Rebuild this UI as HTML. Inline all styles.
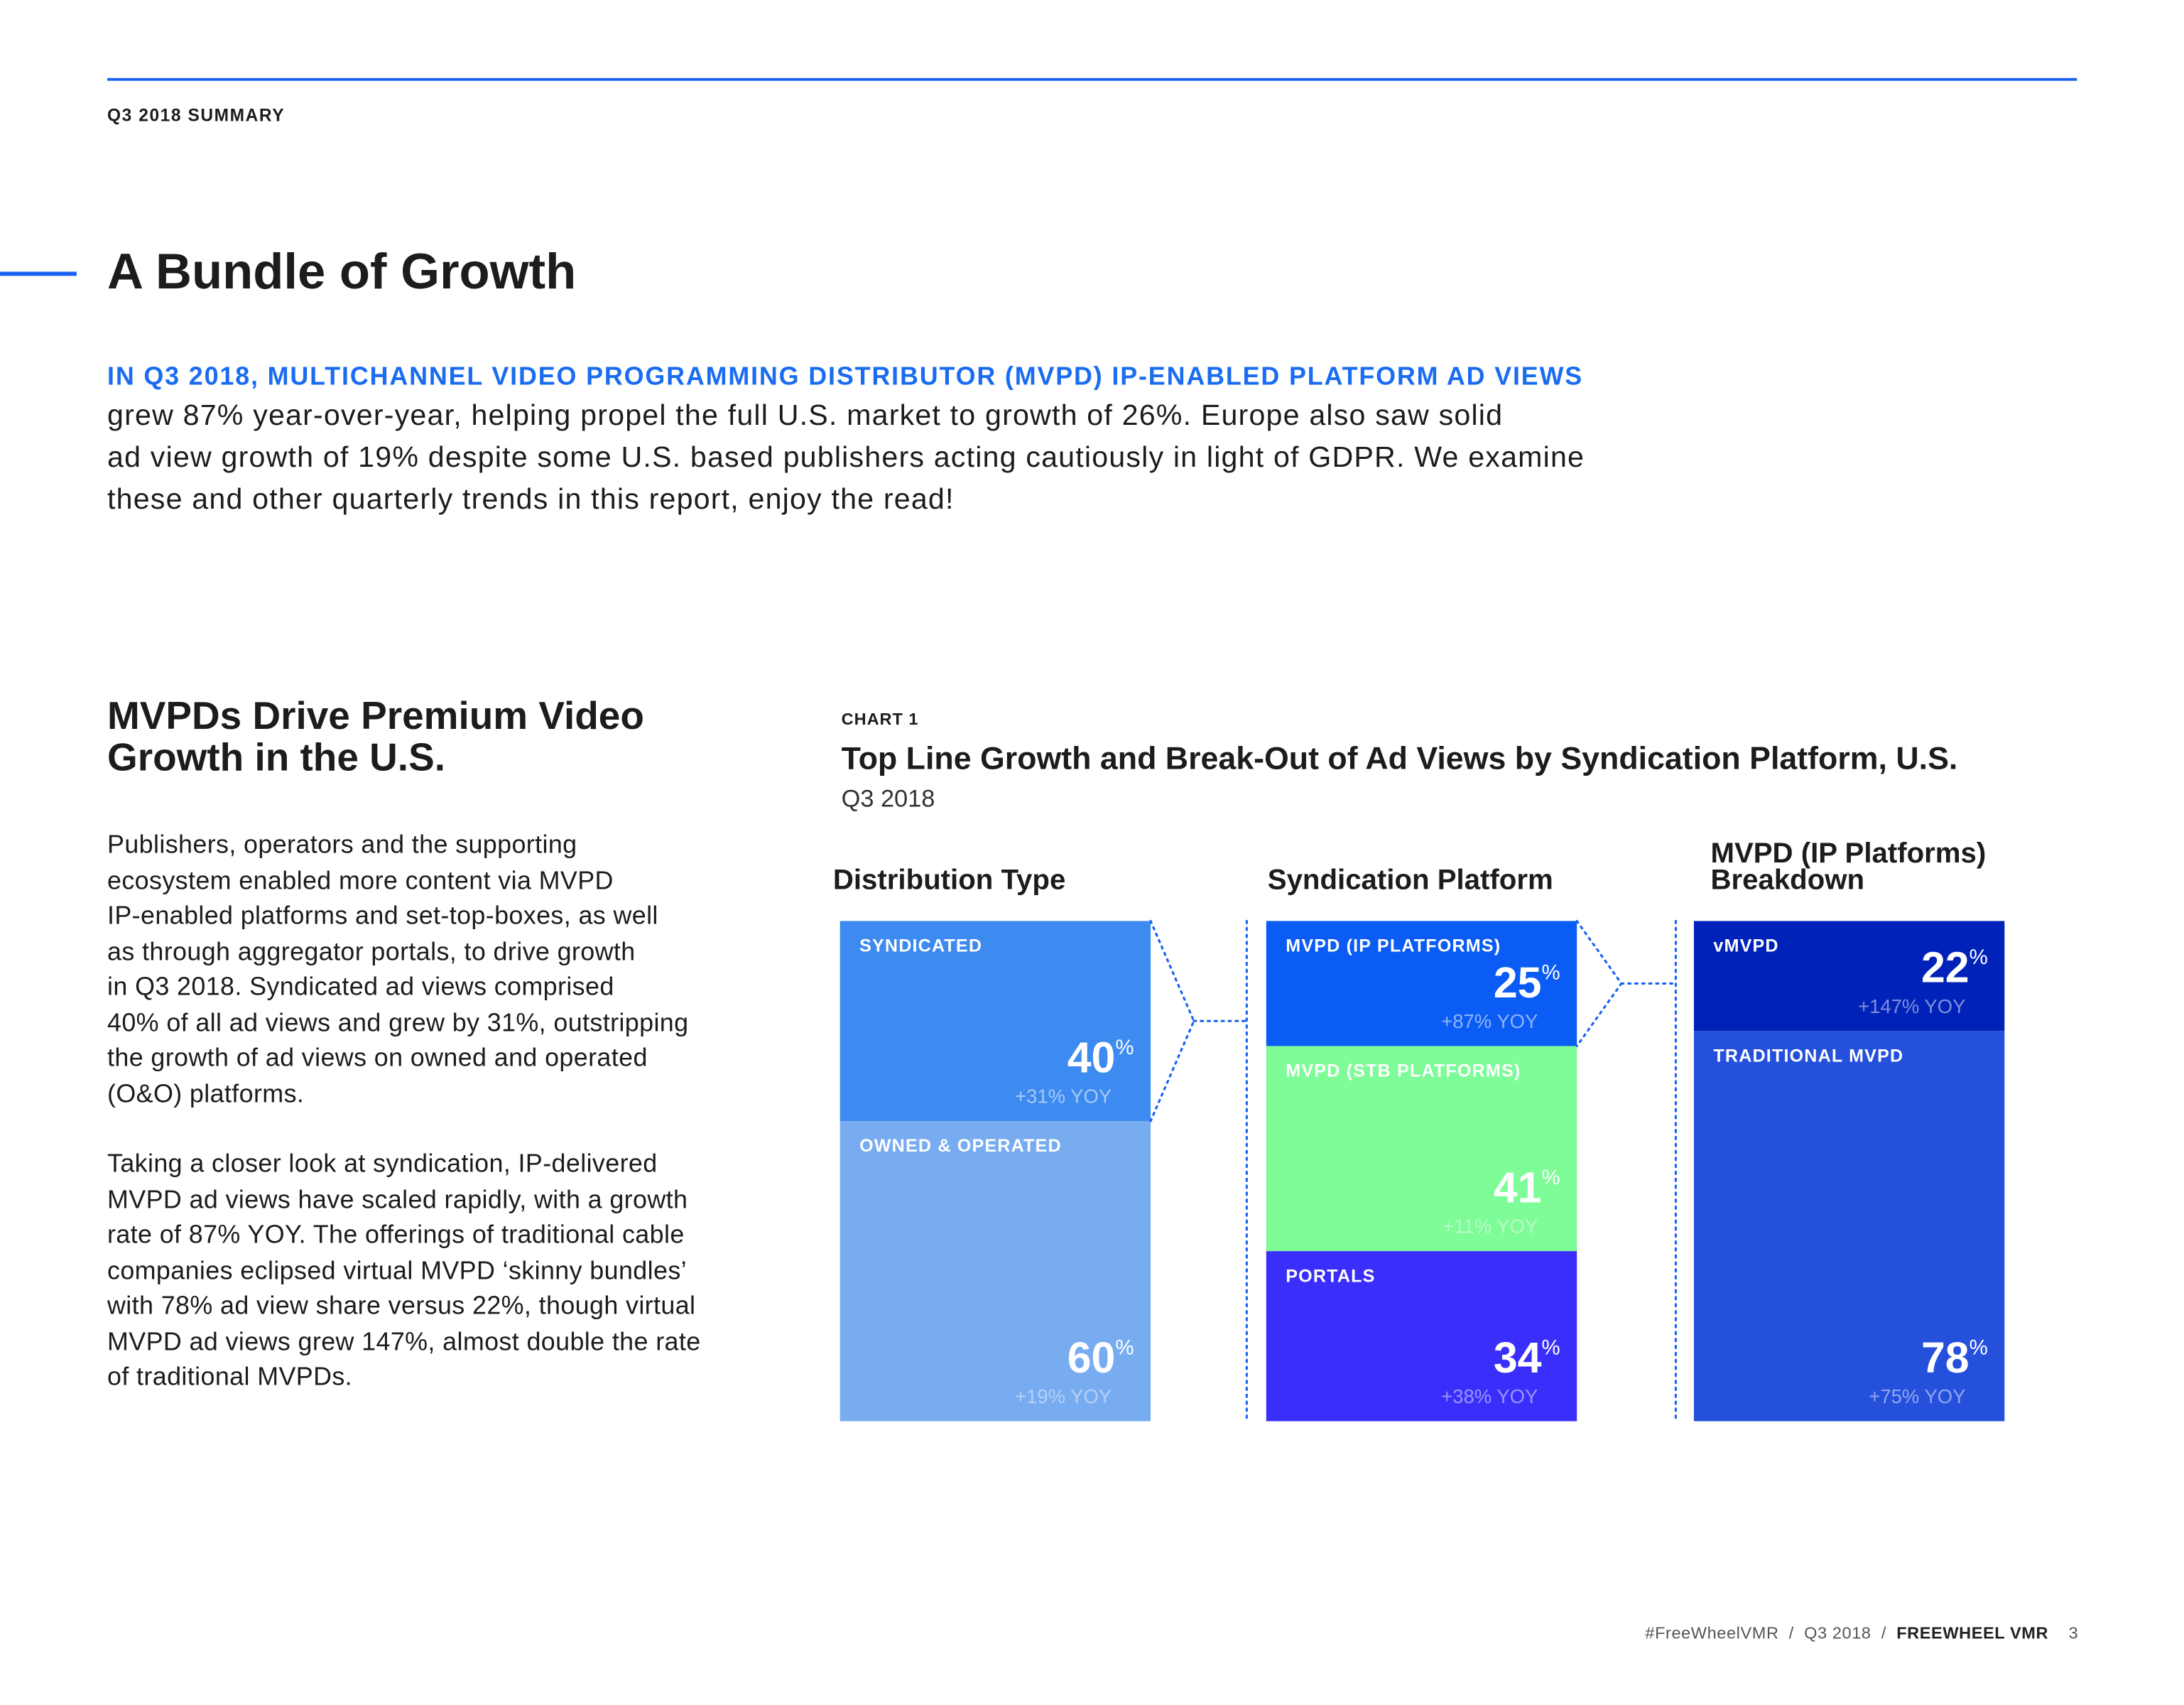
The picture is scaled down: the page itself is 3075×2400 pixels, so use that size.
<!DOCTYPE html>
<html><head><meta charset="utf-8">
<style>
html,body{margin:0;padding:0;background:#fff;}
body{width:3075px;height:2400px;overflow:hidden;position:relative;}
#page{position:absolute;left:0;top:0;width:1550px;height:1210px;transform:scale(1.9613);transform-origin:0 0;font-family:"Liberation Sans",sans-serif;color:#1c1c1c;}
.a{position:absolute;white-space:nowrap;}
.intro{font-size:21px;line-height:30px;letter-spacing:0.6px;}
.para{font-size:18.3px;line-height:25.5px;letter-spacing:0.2px;}
</style></head><body>
<div id="page">
  <div class="a" style="left:77px;top:56px;width:1414px;height:2px;background:#1a62f2;"></div>
  <div class="a" style="left:77px;top:76px;font-size:12.5px;font-weight:bold;letter-spacing:0.8px;">Q3 2018 SUMMARY</div>
  <div class="a" style="left:0;top:195px;width:55px;height:3px;background:#1a62f2;"></div>
  <div class="a" style="left:77px;top:174px;font-size:36px;font-weight:bold;">A Bundle of Growth</div>
  <div class="a" style="left:77px;top:259px;font-size:18.3px;font-weight:bold;color:#1a6cf0;letter-spacing:0.95px;">IN Q3 2018, MULTICHANNEL VIDEO PROGRAMMING DISTRIBUTOR (MVPD) IP-ENABLED PLATFORM AD VIEWS</div>
  <div class="a intro" style="left:77px;top:284px;">grew 87% year-over-year, helping propel the full U.S. market to growth of 26%. Europe also saw solid<br>ad view growth of 19% despite some U.S. based publishers acting cautiously in light of GDPR. We examine<br>these and other quarterly trends in this report, enjoy the read!</div>

  <div class="a" style="left:77px;top:499px;font-size:28px;font-weight:bold;line-height:30px;">MVPDs Drive Premium Video<br>Growth in the U.S.</div>
  <div class="a para" style="left:77px;top:593px;">Publishers, operators and the supporting<br>ecosystem enabled more content via MVPD<br>IP-enabled platforms and set-top-boxes, as well<br>as through aggregator portals, to drive growth<br>in Q3 2018. Syndicated ad views comprised<br>40% of all ad views and grew by 31%, outstripping<br>the growth of ad views on owned and operated<br>(O&amp;O) platforms.</div>
  <div class="a para" style="left:77px;top:822px;">Taking a closer look at syndication, IP-delivered<br>MVPD ad views have scaled rapidly, with a growth<br>rate of 87% YOY. The offerings of traditional cable<br>companies eclipsed virtual MVPD ‘skinny bundles’<br>with 78% ad view share versus 22%, though virtual<br>MVPD ad views grew 147%, almost double the rate<br>of traditional MVPDs.</div>

  <div class="a" style="left:604px;top:509px;font-size:12px;font-weight:bold;letter-spacing:0.5px;">CHART 1</div>
  <div class="a" style="left:604px;top:531px;font-size:22.8px;font-weight:bold;">Top Line Growth and Break-Out of Ad Views by Syndication Platform, U.S.</div>
  <div class="a" style="left:604px;top:563px;font-size:17.5px;color:#333;">Q3 2018</div>

  <svg id="chart" class="a" style="left:0;top:0;" width="1550" height="1210" viewBox="0 0 1550 1210"></svg>

  <div class="a" style="right:58px;top:1165px;font-size:12px;color:#555;letter-spacing:0.3px;">#FreeWheelVMR&nbsp; /&nbsp; Q3 2018&nbsp; /&nbsp; <b style="color:#222;">FREEWHEEL VMR</b>&nbsp;&nbsp;&nbsp; 3</div>
</div>
<script>
const colHeaders=["Distribution Type","Syndication Platform","MVPD (IP Platforms)|Breakdown"];
const col1Labels=["SYNDICATED","OWNED & OPERATED"];
const col1Shares=[40,60];
const col1Yoy=["+31% YOY","+19% YOY"];
const col2Labels=["MVPD (IP PLATFORMS)","MVPD (STB PLATFORMS)","PORTALS"];
const col2Shares=[25,41,34];
const col2Yoy=["+87% YOY","+11% YOY","+38% YOY"];
const col3Labels=["vMVPD","TRADITIONAL MVPD"];
const col3Shares=[22,78];
const col3Yoy=["+147% YOY","+75% YOY"];

const NS="http://www.w3.org/2000/svg";
const svg=document.getElementById('chart');
const cols=[
 {x:603,labels:col1Labels,shares:col1Shares,yoy:col1Yoy,colors:["#3d8af0","#78acf0"],yoyCol:["#a9c9f7","#b5d0f6"]},
 {x:909,labels:col2Labels,shares:col2Shares,yoy:col2Yoy,colors:["#0a5cf5","#7dfc98","#3a2ffa"],yoyCol:["#8eb3fa","#b9fdc7","#9a94fc"]},
 {x:1216,labels:col3Labels,shares:col3Shares,yoy:col3Yoy,colors:["#0022b8","#2450dc"],yoyCol:["#7f8fdb","#92a6ee"]}
];
const top0=661, H=359, W=223;
function yScale(p){return top0+p/100*H;}
function el(t,a){const e=document.createElementNS(NS,t);for(const k in a)e.setAttribute(k,a[k]);svg.appendChild(e);return e;}
const hx=[598,910,1228];
colHeaders.forEach((h,i)=>{
  const lines=h.split('|');
  lines.forEach((ln,j)=>{
    const t=el('text',{x:hx[i],y:638-(lines.length-1-j)*19,'font-size':20.5,'font-weight':'bold','font-family':'Liberation Sans, sans-serif',fill:'#1c1c1c'});
    
    
    t.textContent=ln;
  });
});
const bounds=[];
cols.forEach((c,ci)=>{
  let cum=0;const b=[];
  c.shares.forEach((s,i)=>{
    const y0=yScale(cum), y1=yScale(cum+s); cum+=s; b.push([y0,y1]);
    const r=el('rect',{x:c.x,y:y0,width:W,height:y1-y0,fill:c.colors[i]});
    
    
    const lt=el('text',{x:c.x+14,y:y0+22,'font-size':12.8,'font-weight':'bold','font-family':'Liberation Sans, sans-serif',fill:'#fff','letter-spacing':'0.6'});
    
    
    lt.textContent=c.labels[i];
    const pt=el('text',{x:c.x+W-12,y:y1-35,'text-anchor':'end','font-family':'Liberation Sans Narrow, Liberation Sans, sans-serif',fill:'#fff'});
    
    
    const n=document.createElementNS(NS,'tspan');n.setAttribute('font-size','31');n.setAttribute('font-weight','bold');n.textContent=s;pt.appendChild(n);
    const pc=document.createElementNS(NS,'tspan');pc.setAttribute('font-size','15');pc.setAttribute('dy','-13');pc.textContent='%';pt.appendChild(pc);
    const yt=el('text',{x:c.x+W-28,y:y1-13,'text-anchor':'end','font-size':14,'font-family':'Liberation Sans, sans-serif',fill:c.yoyCol[i]});
    
    
    yt.textContent=c.yoy[i];
  });
  bounds.push(b);
});
function dotted(pts,name){
  const p=el('polyline',{points:pts.map(q=>q.join(',')).join(' '),fill:'none',stroke:'#1a62f2','stroke-width':1.6,'stroke-dasharray':'1.5 3.5','stroke-linecap':'round'});
  
  
}
[[0,895],[1,1203]].forEach(([ci,vx])=>{
  const c=cols[ci], seg=bounds[ci][0], xr=c.x+W, mid=(seg[0]+seg[1])/2, xm=xr+(vx-xr)*0.45;
  dotted([[xr,seg[0]],[xm,mid],[xr,seg[1]]],'connector-bracket');
  dotted([[xm,mid],[vx,mid]],'connector-line');
  dotted([[vx,top0],[vx,top0+H]],'column-divider');
});
</script>
</body></html>
